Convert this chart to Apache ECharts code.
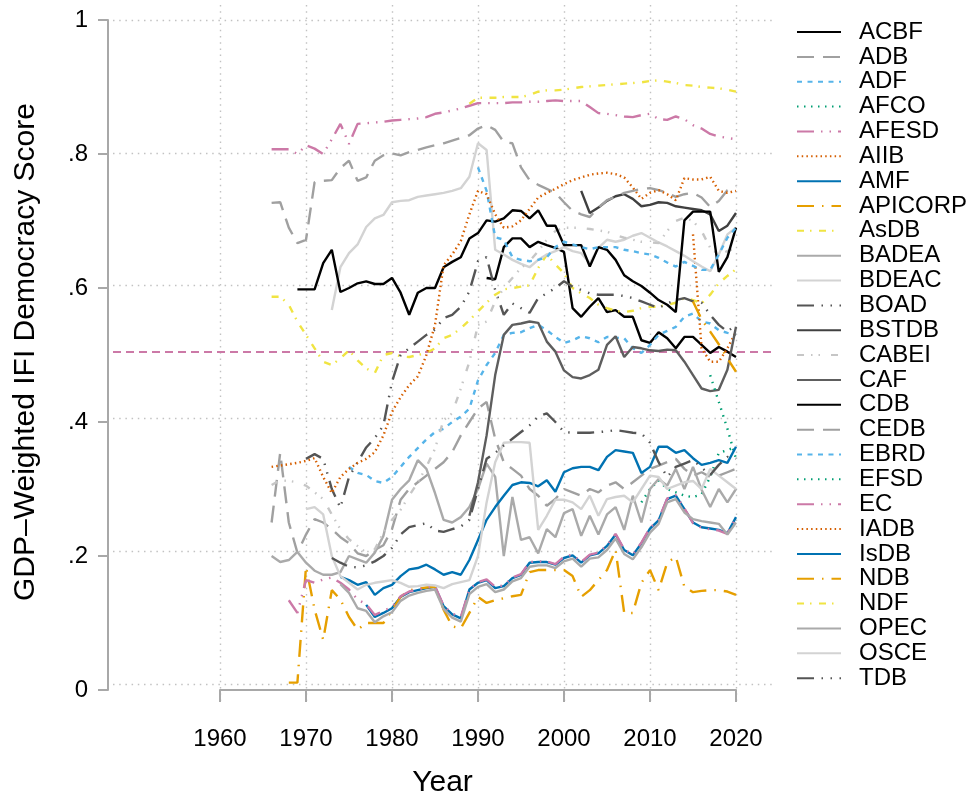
<!DOCTYPE html>
<html>
<head>
<meta charset="utf-8">
<title>GDP-Weighted IFI Democracy Score</title>
<script src="https://cdn.jsdelivr.net/npm/echarts@6/dist/echarts.min.js"></script>
<style>
  html, body { margin: 0; padding: 0; background: #fff; }
  #chart { width: 974px; height: 803px; }
</style>
</head>
<body>
<div id="chart"></div>
<script>
// institutions, in legend order, and the first year each series has
var names = ['ACBF', 'ADB', 'ADF', 'AFCO', 'AFESD', 'AIIB', 'AMF', 'APICORP', 'AsDB',
  'BADEA', 'BDEAC', 'BOAD', 'BSTDB', 'CABEI', 'CAF', 'CDB', 'CEDB', 'EBRD', 'EFSD',
  'EC', 'IADB', 'IsDB', 'NDB', 'NDF', 'OPEC', 'OSCE', 'TDB'];
var starts = [1991, 1966, 1975, 2009, 1966, 2015, 1977, 1968, 1966,
  1966, 1973, 1970, 2002, 1966, 1989, 1969, 1966, 1990, 2017,
  1968, 1966, 1974, 2015, 1989, 1974, 1970, 1973];

// yearly scores
var ACBF = [0.615, 0.613, 0.661, 0.674, 0.674, 0.661, 0.669, 0.664, 0.660, 0.654,
  0.570, 0.557, 0.572, 0.585, 0.564, 0.567, 0.557, 0.557, 0.522, 0.518,
  0.534, 0.525, 0.510, 0.527, 0.527, 0.515, 0.503, 0.512, 0.505, 0.497];
var ADB = [0.250, 0.354, 0.250, 0.205, 0.232, 0.255, 0.250, 0.240, 0.228, 0.219,
  0.204, 0.200, 0.209, 0.216, 0.240, 0.284, 0.300, 0.310, 0.320, 0.330,
  0.340, 0.355, 0.380, 0.400, 0.420, 0.430, 0.375, 0.340, 0.330, 0.320,
  0.300, 0.290, 0.275, 0.285, 0.300, 0.295, 0.290, 0.300, 0.295, 0.305,
  0.310, 0.300, 0.310, 0.320, 0.330, 0.335, 0.340, 0.345, 0.330, 0.320,
  0.325, 0.318, 0.320, 0.325, 0.330];
var ADF = [0.333, 0.324, 0.321, 0.312, 0.309, 0.318, 0.333, 0.348, 0.361, 0.374,
  0.385, 0.390, 0.400, 0.408, 0.420, 0.462, 0.485, 0.503, 0.530, 0.533,
  0.534, 0.540, 0.545, 0.537, 0.527, 0.518, 0.522, 0.528, 0.525, 0.519,
  0.527, 0.526, 0.525, 0.510, 0.503, 0.515, 0.530, 0.536, 0.542, 0.557,
  0.562, 0.550, 0.547, 0.537, 0.533, 0.530];
var AFCO = [0.280, 0.300, 0.313, 0.300, 0.295, 0.290, 0.288, 0.292, 0.318, 0.354, 0.358, 0.363];
var AFESD = [0.807, 0.807, 0.807, 0.800, 0.813, 0.808, 0.800, 0.822, 0.845, 0.815,
  0.845, 0.846, 0.847, 0.848, 0.850, 0.851, 0.852, 0.853, 0.855, 0.860,
  0.862, 0.865, 0.868, 0.872, 0.876, 0.876, 0.876, 0.876, 0.877, 0.877,
  0.878, 0.878, 0.879, 0.880, 0.879, 0.879, 0.879, 0.870, 0.861, 0.860,
  0.858, 0.856, 0.855, 0.858, 0.860, 0.852, 0.851, 0.856, 0.852, 0.843,
  0.838, 0.830, 0.826, 0.824, 0.822];
var AIIB = [0.680, 0.510, 0.490, 0.490, 0.510, 0.535];
var AMF = [0.127, 0.109, 0.115, 0.122, 0.139, 0.146, 0.149, 0.152, 0.154, 0.125,
  0.113, 0.107, 0.150, 0.160, 0.164, 0.152, 0.155, 0.167, 0.172, 0.190,
  0.191, 0.191, 0.187, 0.197, 0.201, 0.190, 0.201, 0.204, 0.215, 0.232,
  0.209, 0.201, 0.219, 0.241, 0.253, 0.285, 0.290, 0.270, 0.250, 0.243,
  0.241, 0.239, 0.234, 0.258];
var APICORP = [0.011, 0.011, 0.184, 0.120, 0.075, 0.149, 0.135, 0.109, 0.090, 0.100,
  0.100, 0.100, 0.119, 0.139, 0.149, 0.151, 0.153, 0.154, 0.120, 0.095,
  0.092, 0.115, 0.139, 0.130, 0.134, 0.137, 0.140, 0.142, 0.176, 0.179,
  0.179, 0.179, 0.179, 0.170, 0.139, 0.149, 0.164, 0.179, 0.209, 0.115,
  0.115, 0.160, 0.179, 0.149, 0.190, 0.199, 0.154, 0.146, 0.148, 0.149,
  0.149, 0.147, 0.142];
var AsDB = [0.587, 0.587, 0.575, 0.550, 0.530, 0.510, 0.490, 0.485, 0.495, 0.507,
  0.492, 0.480, 0.473, 0.500, 0.503, 0.498, 0.497, 0.500, 0.503, 0.510,
  0.525, 0.530, 0.540, 0.552, 0.565, 0.578, 0.590, 0.598, 0.600, 0.602,
  0.604, 0.630, 0.650, 0.635, 0.622, 0.600, 0.592, 0.585, 0.575, 0.570,
  0.566, 0.564, 0.566, 0.570, 0.572, 0.572, 0.575, 0.578, 0.585, 0.582,
  0.577, 0.590, 0.607, 0.618, 0.628];
var BADEA = [0.200, 0.191, 0.194, 0.206, 0.190, 0.178, 0.172, 0.172, 0.176, 0.200,
  0.195, 0.190, 0.205, 0.230, 0.284, 0.300, 0.313, 0.343, 0.330, 0.294,
  0.254, 0.250, 0.258, 0.273, 0.300, 0.338, 0.318, 0.200, 0.288, 0.224,
  0.228, 0.204, 0.240, 0.228, 0.264, 0.270, 0.230, 0.260, 0.232, 0.262,
  0.273, 0.239, 0.290, 0.250, 0.300, 0.315, 0.305, 0.330, 0.300, 0.333,
  0.299, 0.273, 0.300, 0.280, 0.300];
var BDEAC = [0.567, 0.631, 0.652, 0.665, 0.691, 0.704, 0.709, 0.728, 0.730, 0.731,
  0.736, 0.738, 0.740, 0.742, 0.745, 0.749, 0.766, 0.816, 0.806, 0.657,
  0.650, 0.642, 0.636, 0.631, 0.642, 0.650, 0.655, 0.661, 0.655, 0.652,
  0.637, 0.660, 0.672, 0.669, 0.672, 0.678, 0.682, 0.675, 0.668, 0.662,
  0.655, 0.648, 0.640, 0.632, 0.625, 0.650, 0.680, 0.690];
var BOAD = [0.345, 0.352, 0.345, 0.300, 0.272, 0.318, 0.340, 0.362, 0.376, 0.395,
  0.460, 0.500, 0.510, 0.520, 0.530, 0.538, 0.555, 0.560, 0.572, 0.595,
  0.640, 0.646, 0.597, 0.560, 0.577, 0.570, 0.563, 0.585, 0.592, 0.600,
  0.610, 0.602, 0.597, 0.592, 0.590, 0.590, 0.590, 0.588, 0.585, 0.580,
  0.575, 0.570, 0.577, 0.582, 0.585, 0.580, 0.578, 0.560, 0.545, 0.535,
  0.545];
var BSTDB = [0.745, 0.712, 0.720, 0.730, 0.737, 0.740, 0.733, 0.722, 0.724, 0.728,
  0.727, 0.722, 0.720, 0.718, 0.716, 0.710, 0.685, 0.693, 0.712];
var CABEI = [0.306, 0.313, 0.312, 0.310, 0.305, 0.295, 0.285, 0.262, 0.240, 0.225,
  0.215, 0.205, 0.210, 0.235, 0.254, 0.269, 0.290, 0.310, 0.333, 0.360,
  0.403, 0.413, 0.450, 0.490, 0.545, 0.550, 0.580, 0.600, 0.615, 0.630,
  0.640, 0.655, 0.672, 0.685, 0.690, 0.690, 0.690, 0.688, 0.686, 0.684,
  0.679, 0.675, 0.672, 0.669, 0.668, 0.667, 0.685, 0.700, 0.705, 0.700,
  0.685, 0.660, 0.650, 0.655, 0.660];
var CAF = [0.260, 0.310, 0.380, 0.470, 0.530, 0.545, 0.547, 0.550, 0.548, 0.520,
  0.505, 0.477, 0.467, 0.465, 0.470, 0.478, 0.515, 0.528, 0.497, 0.512,
  0.510, 0.507, 0.506, 0.508, 0.507, 0.490, 0.470, 0.450, 0.446, 0.448,
  0.478, 0.542];
var CDB = [0.598, 0.598, 0.598, 0.637, 0.657, 0.594, 0.600, 0.607, 0.610, 0.606,
  0.606, 0.615, 0.593, 0.560, 0.593, 0.600, 0.600, 0.631, 0.639, 0.646,
  0.674, 0.682, 0.701, 0.699, 0.704, 0.716, 0.715, 0.704, 0.716, 0.693,
  0.693, 0.664, 0.664, 0.664, 0.632, 0.661, 0.657, 0.642, 0.619, 0.610,
  0.603, 0.593, 0.582, 0.575, 0.564, 0.701, 0.714, 0.714, 0.714, 0.624,
  0.646, 0.690];
var CEDB = [0.727, 0.728, 0.690, 0.667, 0.672, 0.758, 0.760, 0.761, 0.779, 0.790,
  0.760, 0.765, 0.790, 0.798, 0.801, 0.798, 0.803, 0.806, 0.810, 0.813,
  0.816, 0.820, 0.824, 0.828, 0.838, 0.843, 0.836, 0.818, 0.816, 0.780,
  0.761, 0.754, 0.748, 0.742, 0.728, 0.715, 0.710, 0.706, 0.720, 0.731,
  0.736, 0.742, 0.745, 0.748, 0.749, 0.746, 0.742, 0.736, 0.740, 0.742,
  0.735, 0.721, 0.730, 0.746, 0.752];
var EBRD = [0.780, 0.745, 0.676, 0.672, 0.646, 0.642, 0.640, 0.642, 0.646, 0.661,
  0.669, 0.665, 0.661, 0.658, 0.661, 0.661, 0.661, 0.657, 0.655, 0.652,
  0.650, 0.645, 0.638, 0.632, 0.639, 0.633, 0.627, 0.627, 0.650, 0.675,
  0.690];
var EFSD = [0.470, 0.430, 0.390, 0.345];
var EC = [0.134, 0.115, 0.164, 0.160, 0.165, 0.168, 0.160, 0.150, 0.135, 0.128,
  0.112, 0.118, 0.124, 0.140, 0.147, 0.150, 0.153, 0.155, 0.126, 0.114,
  0.109, 0.150, 0.161, 0.165, 0.154, 0.156, 0.168, 0.173, 0.191, 0.192,
  0.192, 0.188, 0.199, 0.202, 0.191, 0.202, 0.205, 0.216, 0.233, 0.210,
  0.202, 0.220, 0.242, 0.254, 0.286, 0.291, 0.271, 0.249, 0.242, 0.240,
  0.238, 0.233, 0.257];
var IADB = [0.333, 0.335, 0.337, 0.339, 0.342, 0.346, 0.318, 0.294, 0.318, 0.330,
  0.339, 0.345, 0.355, 0.380, 0.415, 0.437, 0.455, 0.468, 0.500, 0.545,
  0.634, 0.650, 0.670, 0.710, 0.745, 0.740, 0.710, 0.690, 0.692, 0.701,
  0.718, 0.735, 0.742, 0.748, 0.755, 0.761, 0.765, 0.769, 0.771, 0.772,
  0.770, 0.765, 0.750, 0.733, 0.742, 0.746, 0.740, 0.731, 0.764, 0.762,
  0.762, 0.766, 0.745, 0.742, 0.745];
var IsDB = [0.169, 0.164, 0.157, 0.161, 0.142, 0.152, 0.157, 0.170, 0.180, 0.182,
  0.187, 0.180, 0.172, 0.176, 0.172, 0.194, 0.224, 0.254, 0.273, 0.290,
  0.306, 0.310, 0.309, 0.304, 0.313, 0.296, 0.325, 0.331, 0.333, 0.333,
  0.328, 0.348, 0.358, 0.356, 0.354, 0.324, 0.333, 0.363, 0.363, 0.354,
  0.358, 0.346, 0.336, 0.339, 0.343, 0.339, 0.363];
var NDB = [0.580, 0.553, 0.535, 0.516, 0.495, 0.475];
var NDF = [0.875, 0.884, 0.884, 0.884, 0.885, 0.885, 0.885, 0.888, 0.893, 0.895,
  0.895, 0.896, 0.898, 0.900, 0.901, 0.902, 0.903, 0.904, 0.905, 0.906,
  0.907, 0.909, 0.910, 0.908, 0.906, 0.903, 0.902, 0.900, 0.899, 0.898,
  0.896, 0.893];
var OPEC = [0.158, 0.145, 0.122, 0.118, 0.101, 0.110, 0.116, 0.133, 0.141, 0.145,
  0.148, 0.150, 0.121, 0.108, 0.102, 0.143, 0.154, 0.158, 0.146, 0.150,
  0.162, 0.167, 0.184, 0.186, 0.186, 0.182, 0.192, 0.196, 0.184, 0.196,
  0.198, 0.209, 0.226, 0.203, 0.195, 0.213, 0.235, 0.248, 0.280, 0.285,
  0.265, 0.255, 0.252, 0.250, 0.248, 0.232, 0.250];
var OSCE = [0.270, 0.273, 0.262, 0.200, 0.170, 0.160, 0.150, 0.157, 0.160, 0.162,
  0.164, 0.160, 0.154, 0.155, 0.157, 0.156, 0.152, 0.158, 0.161, 0.164,
  0.200, 0.280, 0.340, 0.369, 0.370, 0.370, 0.369, 0.239, 0.260, 0.284,
  0.284, 0.280, 0.270, 0.290, 0.260, 0.285, 0.288, 0.290, 0.280, 0.300,
  0.320, 0.318, 0.300, 0.305, 0.310, 0.312, 0.300, 0.330, 0.320, 0.310,
  0.300];
var TDB = [0.197, 0.190, 0.184, 0.183, 0.186, 0.192, 0.200, 0.212, 0.232, 0.243,
  0.246, 0.249, 0.238, 0.236, 0.240, 0.244, 0.254, 0.300, 0.345, 0.354,
  0.365, 0.375, 0.385, 0.395, 0.408, 0.413, 0.400, 0.385, 0.384, 0.384,
  0.384, 0.385, 0.386, 0.388, 0.386, 0.384, 0.383, 0.369, 0.340, 0.318,
  0.333, 0.338, 0.343, 0.332, 0.321, 0.336, 0.348, 0.345];

var values = [ACBF, ADB, ADF, AFCO, AFESD, AIIB, AMF, APICORP, AsDB,
  BADEA, BDEAC, BOAD, BSTDB, CABEI, CAF, CDB, CEDB, EBRD, EFSD,
  EC, IADB, IsDB, NDB, NDF, OPEC, OSCE, TDB];

var refLevel = 0.5;
var yTicks = ['0', '.2', '.4', '.6', '.8', '1'];

// 15 line styles, reused for the second half of the legend
var palette = ['#000000', '#a0a0a0', '#56B4E9', '#009E73', '#CC79A7', '#D55E00', '#0072B2',
  '#E69F00', '#F0E442', '#aaaaaa', '#d3d3d3', '#555555', '#404040', '#c6c6c6', '#5e5e5e'];
var dashes = ['solid', [17, 9], [5, 5.5], [1.5, 5.5], [17, 7, 1.5, 7, 1.5, 7], [1.5, 3.2], 'solid',
  [17, 8, 1.5, 8], [7, 6, 1.5, 7.5], 'solid', 'solid', [17, 7.5, 1.5, 7.5, 1.5, 7.5], 'solid',
  [7, 7, 1.5, 6, 1.5, 11], 'solid'];

var FONT = '"Liberation Sans", Arial, Helvetica, sans-serif';
var axisGray = '#a8a8a8';
var gridDots = { color: '#c2c2c2', width: 1.4, type: [1.5, 4.7] };

var series = [{
  // reference line, drawn across the whole plot region
  type: 'line',
  xAxisIndex: 2,
  yAxisIndex: 2,
  data: [[0, refLevel], [1, refLevel]],
  symbol: 'none',
  silent: true,
  lineStyle: { color: '#CC79A7', width: 2, type: [8, 5] },
  z: 1
}];

names.forEach(function (name, i) {
  var k = i % 15;
  series.push({
    name: name,
    type: 'line',
    xAxisIndex: 0,
    yAxisIndex: 0,
    data: values[i].map(function (v, j) { return [starts[i] + j, v]; }),
    symbol: 'none',
    showSymbol: false,
    lineStyle: { color: palette[k], width: 2.4, type: dashes[k] },
    itemStyle: { color: palette[k] },
    z: 2
  });
});

var chart = echarts.init(document.getElementById('chart'), null, { renderer: 'canvas' });
chart.setOption({
  animation: false,
  backgroundColor: '#ffffff',
  textStyle: { fontFamily: FONT },
  grid: [
    { left: 220, right: 238, top: 20, bottom: 113 },   // data
    { left: 220, right: 238, top: 5, bottom: 98 },     // vertical grid lines
    { left: 113, right: 202, top: 20, bottom: 113 }    // horizontal grid lines
  ],
  xAxis: [
    {
      gridIndex: 0, type: 'value', min: 1960, max: 2020, interval: 10, offset: 20,
      axisLine: { show: true, lineStyle: { color: axisGray, width: 2 } },
      axisTick: { show: true, length: 12, lineStyle: { color: axisGray, width: 2 } },
      axisLabel: { fontSize: 24, color: '#000', margin: 17, fontFamily: FONT,
        showMinLabel: true, showMaxLabel: true,
        formatter: function (v) { return String(v); } },
      splitLine: { show: false }
    },
    {
      gridIndex: 1, type: 'value', min: 1960, max: 2020, interval: 10,
      axisLine: { show: false }, axisTick: { show: false }, axisLabel: { show: false },
      splitLine: { show: true, lineStyle: gridDots }
    },
    {
      gridIndex: 2, type: 'value', min: 0, max: 1,
      axisLine: { show: false }, axisTick: { show: false }, axisLabel: { show: false },
      splitLine: { show: false },
      name: 'Year', nameLocation: 'middle', nameGap: 84,
      nameTextStyle: { fontSize: 30, color: '#000', fontFamily: FONT }
    }
  ],
  yAxis: [
    {
      gridIndex: 0, type: 'value', min: 0, max: 1, interval: 0.2, offset: 112,
      axisLine: { show: true, lineStyle: { color: axisGray, width: 2 } },
      axisTick: { show: true, length: 10, lineStyle: { color: axisGray, width: 2 } },
      axisLabel: {
        fontSize: 24, color: '#000', margin: 20, fontFamily: FONT,
        showMinLabel: true, showMaxLabel: true,
        formatter: function (v) { return yTicks[Math.round(v * 5)]; }
      },
      splitLine: { show: false }
    },
    { gridIndex: 1, type: 'value', min: 0, max: 1, show: false },
    {
      gridIndex: 2, type: 'value', min: 0, max: 1, interval: 0.2,
      axisLine: { show: false }, axisTick: { show: false }, axisLabel: { show: false },
      splitLine: { show: true, lineStyle: gridDots },
      name: 'GDP\u2013Weighted IFI Democracy Score', nameLocation: 'middle', nameGap: 72,
      nameRotate: 90,
      nameTextStyle: { fontSize: 30, color: '#000', fontFamily: FONT }
    }
  ],
  legend: {
    data: names,
    orient: 'vertical',
    left: 796,
    top: 19.6,
    itemWidth: 44,
    itemHeight: 14,
    itemGap: 0,
    padding: 0,
    itemStyle: { color: 'transparent', borderWidth: 0, opacity: 0 },
    textStyle: { fontSize: 24, color: '#000', fontFamily: FONT, lineHeight: 24.85,
      padding: [0, 0, 0, 13] }
  },
  series: series
});
</script>
</body>
</html>
